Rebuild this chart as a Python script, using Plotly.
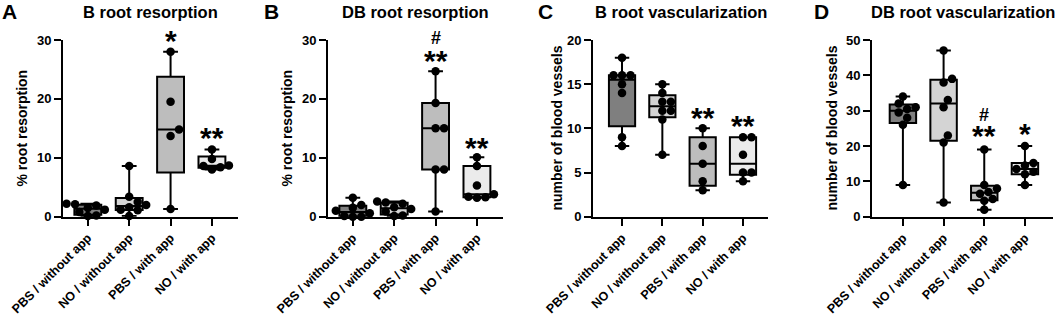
import numpy as np
import plotly.graph_objects as go

# ---------------- data ----------------
groups = ["PBS / without app", "NO / without app", "PBS / with app", "NO / with app"]
box_colors = ["#7f7f7f", "#d4d4d4", "#bdbdbd", "#ebebeb"]

panel_letters = ["A", "B", "C", "D"]
panel_titles = ["B root resorption", "DB root resorption",
                "B root vascularization", "DB root vascularization"]
y_titles = ["% root resorption", "% root resorption",
            "number of blood vessels", "number of blood vessels"]
y_max = [30, 30, 20, 50]
y_dtick = [10, 10, 5, 10]

# Panel A: B root resorption (%)
a_pbs_without = [0.1, 0.2, 0.8, 1.2, 1.5, 1.9, 2.1, 2.2]
a_no_without = [0.1, 1.1, 1.2, 1.6, 2.0, 2.5, 3.4, 8.6]
a_pbs_with = [1.3, 13.7, 14.8, 19.5, 28.0]
a_no_with = [8.0, 8.4, 8.6, 8.7, 9.8, 11.4]

# Panel B: DB root resorption (%)
b_pbs_without = [0.0, 0.0, 0.1, 0.6, 1.0, 1.5, 2.0, 3.2]
b_no_without = [0.1, 0.2, 0.9, 1.3, 1.6, 2.2, 2.4, 2.6]
b_pbs_with = [0.9, 8.0, 8.0, 15.0, 15.0, 19.3, 24.7]
b_no_with = [3.2, 3.3, 3.4, 3.8, 5.3, 8.6, 10.1]

# Panel C: B root vascularization (number of blood vessels)
c_pbs_without = [8, 9, 14, 15, 16, 16, 16, 18]
c_no_without = [7, 11, 12, 12, 13, 13, 14, 15]
c_pbs_with = [3, 4, 6, 8, 10]
c_no_with = [4, 5, 5, 7, 9, 9]

# Panel D: DB root vascularization (number of blood vessels)
d_pbs_without = [9, 26, 28, 29.5, 30.5, 31, 32, 34]
d_no_without = [4, 21, 23, 31, 33, 38, 39, 47]
d_pbs_with = [2, 4.5, 5, 6.5, 7, 8, 9, 19]
d_no_with = [9, 12, 12.7, 13.5, 14.5, 15.2, 20]

panel_data = [
    [a_pbs_without, a_no_without, a_pbs_with, a_no_with],
    [b_pbs_without, b_no_without, b_pbs_with, b_no_with],
    [c_pbs_without, c_no_without, c_pbs_with, c_no_with],
    [d_pbs_without, d_no_without, d_pbs_with, d_no_with],
]

# significance marks: (panel, group index, text, y value)
sig_marks = [
    (0, 2, "*", 30.4), (0, 3, "**", 13.9),
    (1, 2, "#", 30.3), (1, 2, "**", 27.0), (1, 3, "**", 12.2),
    (2, 2, "**", 11.6), (2, 3, "**", 10.7),
    (3, 2, "#", 28.8), (3, 2, "**", 23.7), (3, 3, "*", 24.5),
]

# ---------------- layout geometry (pixels) ----------------
W, H = 1059, 317
panel_x = [(63, 238, -0.6, 3.63), (328, 503, -0.6, 3.63),
           (593, 768, -0.72, 3.62), (872, 1053, -0.76, 3.69)]
y_top, y_bot = 40, 216.7
letter_x = [9.5, 271, 545, 821]
ytitle_x = [22, 287, 557, 832]

FONT = "Liberation Sans, Arial, sans-serif"
DOT = 8.5


def swarm(vals, px_y, px_x, d=DOT):
    vals = np.asarray(vals, dtype=float)
    order = np.argsort(vals, kind="stable")
    placed = []
    offs = np.zeros(len(vals))
    step = d * 0.5
    cands = [0.0]
    for j in range(1, 30):
        cands += [j * step, -j * step]
    for k in order:
        y = vals[k] * px_y
        chosen = 0.0
        for c in cands:
            if all((c - px) ** 2 + (y - py) ** 2 >= (d * 0.95) ** 2 for px, py in placed):
                chosen = c
                break
        placed.append((chosen, y))
        offs[k] = chosen / px_x
    return offs


fig = go.Figure()
annotations = []

for p in range(4):
    x0, x1, r0, r1 = panel_x[p]
    px_x = (x1 - x0) / (r1 - r0)
    px_y = (y_bot - y_top) / y_max[p]
    sfx = "" if p == 0 else str(p + 1)
    xa, ya = "x" + sfx, "y" + sfx
    for g, vals in enumerate(panel_data[p]):
        v = np.asarray(vals, dtype=float)
        q1, med, q3 = np.percentile(v, [25, 50, 75], method="weibull")
        fig.add_trace(go.Box(
            x=[g], q1=[q1], median=[med], q3=[q3],
            lowerfence=[v.min()], upperfence=[v.max()],
            boxpoints=False, width=0.65, whiskerwidth=0.55,
            fillcolor=box_colors[g], line=dict(color="black", width=2),
            showlegend=False, hoverinfo="skip", xaxis=xa, yaxis=ya))
        offs = swarm(v, px_y, px_x)
        fig.add_trace(go.Scatter(
            x=g + offs, y=v, mode="markers",
            marker=dict(color="black", size=DOT),
            cliponaxis=False, showlegend=False, hoverinfo="skip",
            xaxis=xa, yaxis=ya))

    dom_x = [x0 / W, x1 / W]
    dom_y = [1 - y_bot / H, 1 - y_top / H]
    axis_common = dict(showline=True, linecolor="black", linewidth=2,
                       ticks="outside", ticklen=7, tickwidth=2, tickcolor="black",
                       showgrid=False, zeroline=False, automargin=False)
    fig.update_layout(**{
        "xaxis" + sfx: dict(domain=dom_x, range=[r0, r1], tickmode="array",
                            tickvals=list(range(4)), ticktext=groups, tickangle=-45,
                            tickfont=dict(family=FONT, size=12.5, color="black", weight="bold"),
                            anchor=ya, **axis_common),
        "yaxis" + sfx: dict(domain=dom_y, range=[0, y_max[p]], dtick=y_dtick[p],
                            tickfont=dict(family=FONT, size=13, color="black", weight="bold"),
                            anchor=xa, **axis_common),
    })
    # panel title
    annotations.append(dict(text=panel_titles[p], xref="paper", yref="paper",
                            x=(x0 + x1) / 2 / W, y=1 - 12 / H, xanchor="center", yanchor="middle",
                            showarrow=False,
                            font=dict(family=FONT, size=16.5, color="black", weight="bold")))
    annotations.append(dict(text=panel_letters[p], xref="paper", yref="paper",
                            x=letter_x[p] / W, y=1 - 12 / H, xanchor="center", yanchor="middle",
                            showarrow=False,
                            font=dict(family=FONT, size=21, color="black", weight="bold")))
    annotations.append(dict(text=y_titles[p], xref="paper", yref="paper",
                            x=ytitle_x[p] / W, y=1 - 128.5 / H, xanchor="center", yanchor="middle",
                            textangle=-90, showarrow=False,
                            font=dict(family=FONT, size=14, color="black", weight="bold")))

for p, g, txt, yv in sig_marks:
    sfx = "" if p == 0 else str(p + 1)
    star = txt != "#"
    annotations.append(dict(text=txt, xref="x" + sfx, yref="y" + sfx + " domain", x=g,
                            y=yv / y_max[p],
                            xanchor="center", yanchor="middle", showarrow=False,
                            yshift=-3 if star else 0,
                            font=dict(family=FONT, size=30 if star else 18, color="black",
                                      weight="bold")))

fig.update_layout(width=W, height=H, autosize=False,
                  margin=dict(l=0, r=0, t=0, b=0, autoexpand=False),
                  paper_bgcolor="white", plot_bgcolor="white",
                  annotations=annotations, boxmode="overlay")

fig.write_html("out.html", config={"displayModeBar": False},
               post_script="document.body.style.margin='0';document.body.style.padding='0';")
